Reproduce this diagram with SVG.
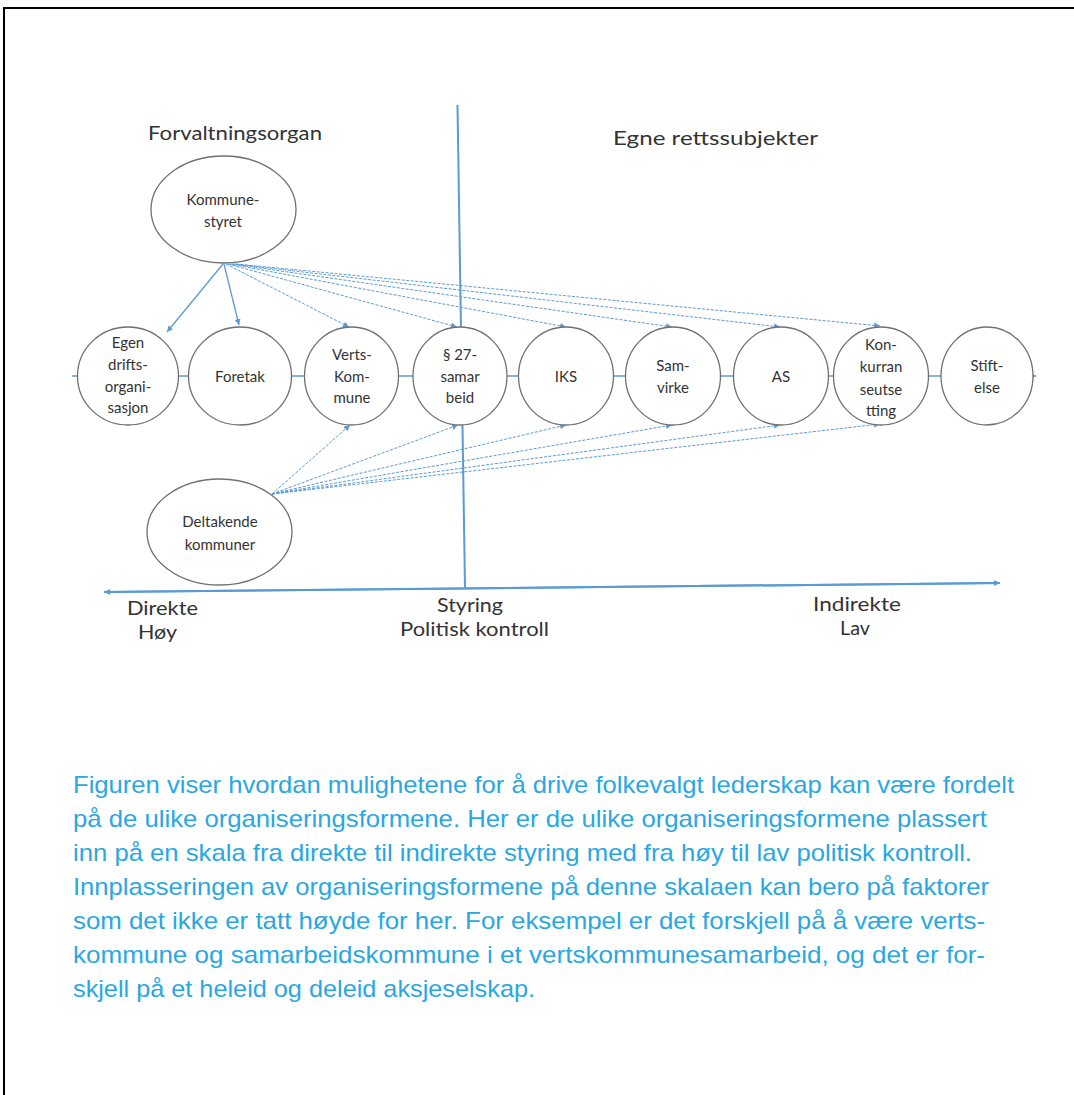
<svg xmlns="http://www.w3.org/2000/svg" width="1074" height="1095" viewBox="0 0 1074 1095">
<style>
.frame{stroke:#000;stroke-width:2;fill:none}
.node{fill:#fff;stroke:#707070;stroke-width:1.3}
.lbl{font-family:Lato,"Open Sans","Liberation Sans",sans-serif;font-size:15px;fill:#333;text-anchor:middle}
.big{font-family:Lato,"Open Sans","Liberation Sans",sans-serif;font-size:18.5px;fill:#333}
.solid{stroke:#5b9bd5;stroke-width:1.3;fill:none}
.dash{stroke:#5b9bd5;stroke-width:1;fill:none;stroke-dasharray:3 1.5}
.axis{stroke:#5b9bd5;stroke-width:2;fill:none}
.cap{font-family:"Liberation Sans",Arial,sans-serif;font-size:24px;fill:#2aa7e1}
</style>
<defs>
<marker id="ah" markerUnits="userSpaceOnUse" markerWidth="7" markerHeight="7" refX="6" refY="3" orient="auto">
<path d="M0,0 L6,3 L0,6 z" fill="#5b9bd5"/>
</marker>
</defs>
<rect width="1074" height="1095" fill="#fff"/>
<path class="frame" d="M4,1095 V8 H1074"/>

<g id="connectors">
<line class="axis" x1="457.5" y1="105" x2="465" y2="588"/>
<line class="axis" x1="1000" y1="583" x2="104" y2="592" marker-end="url(#ah)"/>
<line class="axis" x1="104" y1="592" x2="1000" y2="583" marker-end="url(#ah)"/>
<line class="solid" x1="72" y1="376" x2="1036" y2="376" marker-end="url(#ah)"/>
<line class="solid" x1="223" y1="264" x2="167" y2="332" marker-end="url(#ah)"/>
<line class="solid" x1="224" y1="264" x2="239" y2="325" marker-end="url(#ah)"/>
<line class="dash" x1="226" y1="264" x2="349" y2="327" marker-end="url(#ah)"/>
<line class="dash" x1="228" y1="264" x2="457" y2="327" marker-end="url(#ah)"/>
<line class="dash" x1="230" y1="264" x2="566" y2="327" marker-end="url(#ah)"/>
<line class="dash" x1="232" y1="264" x2="672" y2="327" marker-end="url(#ah)"/>
<line class="dash" x1="234" y1="264" x2="780" y2="327" marker-end="url(#ah)"/>
<line class="dash" x1="236" y1="264" x2="880" y2="326" marker-end="url(#ah)"/>
<line class="dash" x1="272" y1="494" x2="350" y2="425" marker-end="url(#ah)"/>
<line class="dash" x1="272" y1="494" x2="458" y2="425" marker-end="url(#ah)"/>
<line class="dash" x1="272" y1="494" x2="566" y2="425" marker-end="url(#ah)"/>
<line class="dash" x1="272" y1="494" x2="672" y2="425" marker-end="url(#ah)"/>
<line class="dash" x1="272" y1="494" x2="780" y2="425" marker-end="url(#ah)"/>
<line class="dash" x1="272" y1="494" x2="880" y2="424" marker-end="url(#ah)"/>
</g>

<g id="kommunestyret">
<ellipse class="node" cx="223.5" cy="209.5" rx="72.5" ry="53.5"/>
<text class="lbl" x="223" y="205">Kommune-</text>
<text class="lbl" x="223" y="227">styret</text>
</g>
<g id="deltakende">
<ellipse class="node" cx="219.5" cy="532" rx="72.5" ry="53"/>
<text class="lbl" x="220" y="527">Deltakende</text>
<text class="lbl" x="220" y="550">kommuner</text>
</g>

<g id="egen">
<ellipse class="node" cx="128" cy="376" rx="50.5" ry="49"/>
<text class="lbl" x="128" y="348">Egen</text>
<text class="lbl" x="128" y="370">drifts-</text>
<text class="lbl" x="128" y="392">organi-</text>
<text class="lbl" x="128" y="413">sasjon</text>
</g>
<g id="foretak">
<ellipse class="node" cx="240" cy="376" rx="51.5" ry="49"/>
<text class="lbl" x="240" y="382">Foretak</text>
</g>
<g id="verts">
<ellipse class="node" cx="351.5" cy="376" rx="47" ry="49"/>
<text class="lbl" x="352" y="360">Verts-</text>
<text class="lbl" x="352" y="382">Kom-</text>
<text class="lbl" x="352" y="403">mune</text>
</g>
<g id="p27">
<ellipse class="node" cx="460" cy="376" rx="47" ry="49"/>
<text class="lbl" x="460" y="360">§ 27-</text>
<text class="lbl" x="460" y="382">samar</text>
<text class="lbl" x="460" y="403">beid</text>
</g>
<g id="iks">
<ellipse class="node" cx="566" cy="376" rx="47.5" ry="49"/>
<text class="lbl" x="566" y="382">IKS</text>
</g>
<g id="samvirke">
<ellipse class="node" cx="673" cy="376" rx="47.5" ry="49"/>
<text class="lbl" x="673" y="371">Sam-</text>
<text class="lbl" x="673" y="393">virke</text>
</g>
<g id="as">
<ellipse class="node" cx="781" cy="376" rx="47.5" ry="49"/>
<text class="lbl" x="781" y="382">AS</text>
</g>
<g id="konkurranse">
<ellipse class="node" cx="881" cy="376" rx="47.5" ry="49"/>
<text class="lbl" x="881" y="350">Kon-</text>
<text class="lbl" x="881" y="372">kurran</text>
<text class="lbl" x="881" y="395">seutse</text>
<text class="lbl" x="881" y="416">tting</text>
</g>
<g id="stiftelse">
<ellipse class="node" cx="987" cy="376" rx="46" ry="49"/>
<text class="lbl" x="987" y="371">Stift-</text>
<text class="lbl" x="987" y="393">else</text>
</g>

<g id="labels">
<text class="big" x="148" y="140" textLength="174" lengthAdjust="spacingAndGlyphs">Forvaltningsorgan</text>
<text class="big" x="613" y="145" textLength="205" lengthAdjust="spacingAndGlyphs">Egne rettssubjekter</text>
<text class="big" x="127" y="615" textLength="71" lengthAdjust="spacingAndGlyphs">Direkte</text>
<text class="big" x="138" y="639" textLength="39" lengthAdjust="spacingAndGlyphs">Høy</text>
<text class="big" x="437" y="612" textLength="66" lengthAdjust="spacingAndGlyphs">Styring</text>
<text class="big" x="400" y="636" textLength="149" lengthAdjust="spacingAndGlyphs">Politisk kontroll</text>
<text class="big" x="813" y="611" textLength="88" lengthAdjust="spacingAndGlyphs">Indirekte</text>
<text class="big" x="840" y="635" textLength="30" lengthAdjust="spacingAndGlyphs">Lav</text>
</g>

<g id="caption">
<text class="cap" x="73" y="793" textLength="941" lengthAdjust="spacingAndGlyphs">Figuren viser hvordan mulighetene for å drive folkevalgt lederskap kan være fordelt</text>
<text class="cap" x="73" y="827" textLength="914" lengthAdjust="spacingAndGlyphs">på de ulike organiseringsformene. Her er de ulike organiseringsformene plassert</text>
<text class="cap" x="73" y="861" textLength="899" lengthAdjust="spacingAndGlyphs">inn på en skala fra direkte til indirekte styring med fra høy til lav politisk kontroll.</text>
<text class="cap" x="73" y="895" textLength="916" lengthAdjust="spacingAndGlyphs">Innplasseringen av organiseringsformene på denne skalaen kan bero på faktorer</text>
<text class="cap" x="73" y="929" textLength="912" lengthAdjust="spacingAndGlyphs">som det ikke er tatt høyde for her. For eksempel er det forskjell på å være verts-</text>
<text class="cap" x="73" y="963" textLength="912" lengthAdjust="spacingAndGlyphs">kommune og samarbeidskommune i et vertskommunesamarbeid, og det er for-</text>
<text class="cap" x="73" y="997" textLength="462" lengthAdjust="spacingAndGlyphs">skjell på et heleid og deleid aksjeselskap.</text>
</g>
</svg>
